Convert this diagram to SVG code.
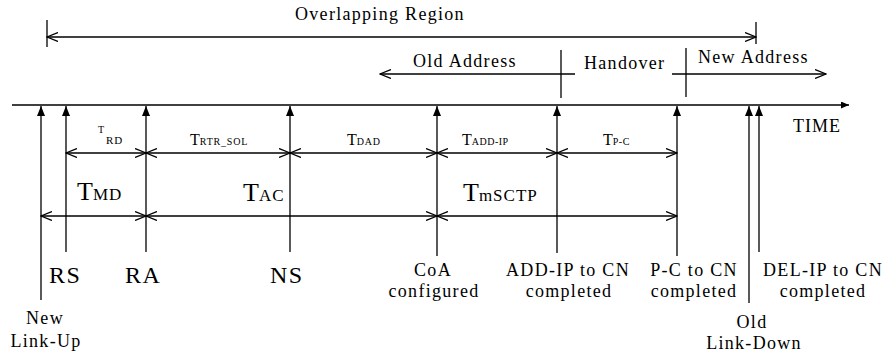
<svg xmlns="http://www.w3.org/2000/svg" width="885" height="359" viewBox="0 0 885 359">
<defs>
<style>
.ln{stroke:#000;stroke-width:1.3;fill:none}
.t{font-family:"Liberation Serif","Times New Roman",serif;fill:#000}
.lab{font-size:18px;letter-spacing:1.3px}
.big{font-size:24px;letter-spacing:1.5px}
</style>
<marker id="open" viewBox="0 0 12 10" refX="11" refY="5" markerWidth="12" markerHeight="10" markerUnits="userSpaceOnUse" orient="auto-start-reverse">
<path d="M0,0.5 L11,5 L0,9.5" fill="none" stroke="#000" stroke-width="1.3"/>
</marker>
<marker id="fill" viewBox="0 0 10 8" refX="10" refY="4" markerWidth="10" markerHeight="8" markerUnits="userSpaceOnUse" orient="auto">
<path d="M0,0 L10,4 L0,8 Z" fill="#000"/>
</marker>
<marker id="axis" viewBox="0 0 8 7" refX="8" refY="3.5" markerWidth="8" markerHeight="7" markerUnits="userSpaceOnUse" orient="auto">
<path d="M0,0 L8,3.5 L0,7 Z" fill="#000"/>
</marker>
</defs>
<rect width="885" height="359" fill="#fff"/>

<g id="time-axis">
<line class="ln" x1="12" y1="105" x2="849" y2="105" stroke-width="1.5" marker-end="url(#axis)"/>
<text class="t" x="793" y="132" font-size="18" letter-spacing="1">TIME</text>
</g>

<g id="overlapping-region">
<line class="ln" x1="47" y1="37" x2="756" y2="37" marker-start="url(#open)" marker-end="url(#open)"/>
<line class="ln" x1="47" y1="20" x2="47" y2="47"/>
<line class="ln" x1="756" y1="22" x2="756" y2="44"/>
<text class="t" x="295" y="20" font-size="18" letter-spacing="1.3">Overlapping Region</text>
</g>

<g id="old-address">
<line class="ln" x1="380" y1="74" x2="575" y2="74" marker-start="url(#open)"/>
<line class="ln" x1="561" y1="50" x2="561" y2="98"/>
<text class="t lab" x="413" y="67" letter-spacing="1.5">Old Address</text>
</g>

<g id="handover">
<text class="t lab" x="584" y="69" letter-spacing="1.5">Handover</text>
</g>

<g id="new-address">
<line class="ln" x1="672" y1="74" x2="826" y2="74" marker-end="url(#open)"/>
<line class="ln" x1="686" y1="48" x2="686" y2="97"/>
<text class="t lab" x="698" y="63" letter-spacing="1.5">New Address</text>
</g>

<g id="connectors">
<line class="ln" x1="41" y1="300" x2="41" y2="106" marker-end="url(#fill)"/>
<line class="ln" x1="66" y1="252" x2="66" y2="106" marker-end="url(#fill)"/>
<line class="ln" x1="146" y1="252" x2="146" y2="106" marker-end="url(#fill)"/>
<line class="ln" x1="290" y1="252" x2="290" y2="106" marker-end="url(#fill)"/>
<line class="ln" x1="437" y1="256" x2="437" y2="106" marker-end="url(#fill)"/>
<line class="ln" x1="557" y1="253" x2="557" y2="106" marker-end="url(#fill)"/>
<line class="ln" x1="677" y1="256" x2="677" y2="106" marker-end="url(#fill)"/>
<line class="ln" x1="749" y1="303" x2="749" y2="106" marker-end="url(#fill)"/>
<line class="ln" x1="759" y1="252" x2="759" y2="106" marker-end="url(#fill)"/>

<line class="ln" x1="66" y1="153" x2="146" y2="153" marker-start="url(#open)" marker-end="url(#open)"/>
<line class="ln" x1="146" y1="153" x2="290" y2="153" marker-start="url(#open)" marker-end="url(#open)"/>
<line class="ln" x1="290" y1="153" x2="437" y2="153" marker-start="url(#open)" marker-end="url(#open)"/>
<line class="ln" x1="437" y1="153" x2="557" y2="153" marker-start="url(#open)" marker-end="url(#open)"/>
<line class="ln" x1="557" y1="153" x2="677" y2="153" marker-start="url(#open)" marker-end="url(#open)"/>

<line class="ln" x1="41" y1="216" x2="146" y2="216" marker-start="url(#open)" marker-end="url(#open)"/>
<line class="ln" x1="146" y1="216" x2="437" y2="216" marker-start="url(#open)" marker-end="url(#open)"/>
<line class="ln" x1="437" y1="216" x2="677" y2="216" marker-start="url(#open)" marker-end="url(#open)"/>
</g>

<g id="interval-labels">
<text class="t" x="98" y="133" font-size="10">T</text>
<text class="t" x="106" y="144" font-size="11" letter-spacing="0.8">RD</text>
<text class="t" x="190" y="145"><tspan font-size="16">T</tspan><tspan font-size="10" letter-spacing="0.8">RTR_SOL</tspan></text>
<text class="t" x="347" y="145"><tspan font-size="16">T</tspan><tspan font-size="10" letter-spacing="0.8">DAD</tspan></text>
<text class="t" x="462" y="145"><tspan font-size="16">T</tspan><tspan font-size="10" letter-spacing="0.5">ADD-IP</tspan></text>
<text class="t" x="603" y="145"><tspan font-size="16">T</tspan><tspan font-size="10" letter-spacing="0.5">P-C</tspan></text>
<text class="t" x="77" y="200"><tspan font-size="26">T</tspan><tspan font-size="17" letter-spacing="1">MD</tspan></text>
<text class="t" x="243" y="201"><tspan font-size="26">T</tspan><tspan font-size="17" letter-spacing="1">AC</tspan></text>
<text class="t" x="463" y="201"><tspan font-size="26">T</tspan><tspan font-size="17" letter-spacing="1">mSCTP</tspan></text>
</g>

<g id="new-link-up">
<text class="t lab" x="45" y="324" text-anchor="middle">New</text>
<text class="t lab" x="46" y="347" text-anchor="middle">Link-Up</text>
</g>
<g id="rs"><text class="t big" x="49" y="283">RS</text></g>
<g id="ra"><text class="t big" x="125" y="283">RA</text></g>
<g id="ns"><text class="t big" x="270" y="283">NS</text></g>
<g id="coa-configured">
<text class="t lab" x="433" y="276" text-anchor="middle">CoA</text>
<text class="t lab" x="434" y="297" text-anchor="middle">configured</text>
</g>
<g id="add-ip">
<text class="t lab" x="568" y="276" text-anchor="middle">ADD-IP to CN</text>
<text class="t lab" x="569" y="297" text-anchor="middle">completed</text>
</g>
<g id="p-c">
<text class="t lab" x="694" y="276" text-anchor="middle">P-C to CN</text>
<text class="t lab" x="694" y="297" text-anchor="middle">completed</text>
</g>
<g id="old-link-down">
<text class="t lab" x="752" y="328" text-anchor="middle">Old</text>
<text class="t lab" x="754" y="349" text-anchor="middle">Link-Down</text>
</g>
<g id="del-ip">
<text class="t lab" x="823" y="276" text-anchor="middle">DEL-IP to CN</text>
<text class="t lab" x="823" y="297" text-anchor="middle">completed</text>
</g>
</svg>
